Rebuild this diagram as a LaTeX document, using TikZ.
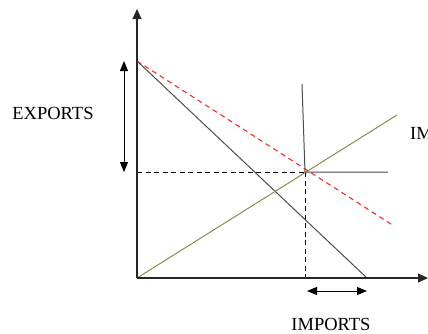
\documentclass[tikz,border=0pt]{standalone}
\usepackage{fontspec}
\setmainfont{Liberation Serif}
\usetikzlibrary{arrows.meta}
\begin{document}
\begin{tikzpicture}[x=1pt,y=-1pt,
  axis/.style={draw=black!85, line width=1.1pt, -{Triangle[length=10pt,width=9pt]}},
  dbl/.style={draw=black, line width=1pt, {Triangle[length=10pt,width=8pt]}-{Triangle[length=10pt,width=8pt]}},
  curve/.style={draw=black!70, line width=1pt},
  green/.style={draw=olive!50!gray, line width=1pt},
  reddash/.style={draw=red!85, line width=1.1pt, dash pattern=on 5pt off 4pt},
  blkdash/.style={draw=black, line width=1pt, dash pattern=on 5pt off 3.5pt},
  lbl/.style={font=\fontsize{18.5}{20}\selectfont, inner sep=0pt}]
\useasboundingbox (0,0) rectangle (428,333);
\coordinate (O) at (137,278);
\coordinate (Ytop) at (137,9);
\coordinate (Xend) at (428,278);
\coordinate (A) at (137,61);
\coordinate (B) at (367,278);
\coordinate (R) at (394,226);
\coordinate (G) at (397,115);
\coordinate (E) at (305,172);
\coordinate (V) at (302,84);
\coordinate (H) at (388,172);
\coordinate (Ey) at (137,172);
\coordinate (Ex) at (305,278);
\coordinate (Et) at (124,61);
\coordinate (Eb) at (124,172);
\coordinate (Il) at (307,291);
\coordinate (Ir) at (367,291);
\draw[blkdash] (Ey) -- (E);
\draw[blkdash] (E) -- (Ex);
\draw[curve] (A) -- (B);
\draw[green] (O) -- (G);
\draw[reddash] (A) -- (R);
\draw[curve] (V) -- (E) -- (H);
\draw[axis] (O) -- (Ytop);
\draw[axis] (O) -- (Xend);
\draw[dbl] (Et) -- (Eb);
\draw[dbl] (Il) -- (Ir);
\node[lbl] (ex) at (53,113) {EXPORTS};
\node[lbl] (im) at (331,324) {IMPORTS};
\node[lbl, anchor=west] (im2) at (410,133) {IM};
\end{tikzpicture}
\end{document}
